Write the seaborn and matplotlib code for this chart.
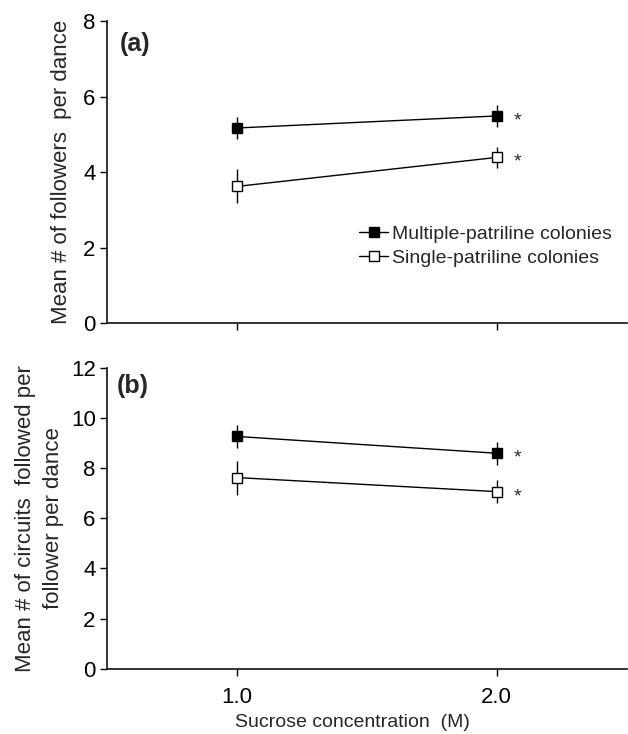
import matplotlib
matplotlib.use("Agg")
import matplotlib.pyplot as plt
import seaborn as sns
import pandas as pd

# data (means and SE)
conc = [1.0, 2.0]
groups = ["Multiple-patriline colonies", "Single-patriline colonies"]

followers_multi = [5.17, 5.49]
followers_multi_se = [0.29, 0.29]
followers_single = [3.62, 4.39]
followers_single_se = [0.45, 0.28]

circuits_multi = [9.26, 8.59]
circuits_multi_se = [0.45, 0.46]
circuits_single = [7.62, 7.06]
circuits_single_se = [0.68, 0.45]

sns.set_style("ticks")
plt.rcParams["font.family"] = ["Liberation Sans", "DejaVu Sans"]

fig = plt.figure(figsize=(6.28, 7.34), dpi=100)
ax_a = fig.add_axes([0.170, 0.560, 0.828, 0.411])
ax_b = fig.add_axes([0.170, 0.089, 0.828, 0.410])

facecols = {groups[0]: "black", groups[1]: "white"}


def panel(ax, multi, multi_se, single, single_se):
    df = pd.DataFrame({
        "conc": conc * 2,
        "value": multi + single,
        "se": multi_se + single_se,
        "group": [groups[0]] * 2 + [groups[1]] * 2,
    })
    for g in groups:
        sub = df[df.group == g]
        ax.errorbar(sub.conc, sub.value, yerr=sub.se, fmt="none",
                    ecolor="black", elinewidth=1.0, capsize=0, zorder=2)
        sns.lineplot(data=sub, x="conc", y="value", ax=ax, color="black",
                     linewidth=1.0, marker="s", markersize=7,
                     markerfacecolor=facecols[g], markeredgecolor="black",
                     markeredgewidth=1.0, label=g, zorder=3)
        # significance star next to the 2.0 M point
        ax.annotate("*", xy=(sub.conc.iloc[-1], sub.value.iloc[-1]),
                    xytext=(15, -3.5), textcoords="offset points",
                    fontsize=14, ha="center", va="center")
    ax.set_xlim(0.5, 2.5)
    ax.set_xticks(conc)
    ax.set_xlabel("")
    for s in ["top", "right"]:
        ax.spines[s].set_visible(False)
    for s in ["left", "bottom"]:
        ax.spines[s].set_linewidth(1.3)
        ax.spines[s].set_color("#222222")
    ax.tick_params(axis="both", labelsize=16, length=5, width=1.0,
                   direction="out", colors="black", pad=3)


panel(ax_a, followers_multi, followers_multi_se, followers_single, followers_single_se)
panel(ax_b, circuits_multi, circuits_multi_se, circuits_single, circuits_single_se)

ax_a.set_ylim(0, 8)
ax_a.set_yticks([0, 2, 4, 6, 8])
ax_a.set_xticklabels([])
ax_a.set_ylabel("Mean # of followers  per dance", fontsize=16, labelpad=8)
ax_a.text(0.025, 0.925, "(a)", transform=ax_a.transAxes, fontsize=18,
          fontweight="bold", ha="left", va="center")
ax_a.legend(loc="center left", bbox_to_anchor=(0.47, 0.255), frameon=False,
            fontsize=14, handlelength=1.5, handletextpad=0.2,
            labelspacing=0.3, borderaxespad=0)

ax_b.set_ylim(0, 12)
ax_b.set_yticks([0, 2, 4, 6, 8, 10, 12])
ax_b.set_xticklabels(["1.0", "2.0"])
ax_b.tick_params(axis="x", pad=8)
ax_b.set_ylabel("Mean # of circuits  followed per\nfollower per dance",
                fontsize=16, labelpad=5, linespacing=1.45)
ax_b.set_xlabel("Sucrose concentration  (M)", fontsize=14)
ax_b.xaxis.set_label_coords(0.473, -0.152)
ax_b.text(0.02, 0.94, "(b)", transform=ax_b.transAxes, fontsize=18,
          fontweight="bold", ha="left", va="center")
if ax_b.get_legend():
    ax_b.get_legend().remove()

fig.savefig("out.png", dpi=100)
